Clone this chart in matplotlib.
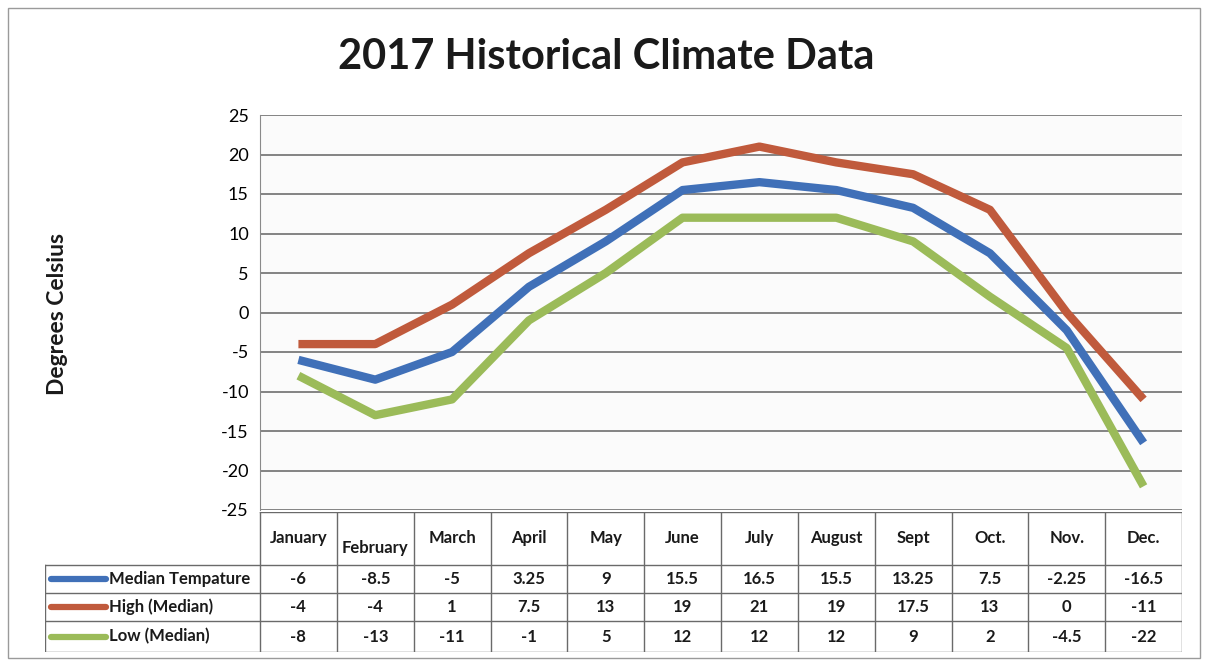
import numpy as np
import matplotlib
matplotlib.use("Agg")
import matplotlib.pyplot as plt
from matplotlib.patches import Rectangle

plt.rcParams['font.family'] = ['Lato', 'DejaVu Sans']

# data
months = ["January", "February", "March", "April", "May", "June",
          "July", "August", "Sept", "Oct.", "Nov.", "Dec."]
median_temp = [-6, -8.5, -5, 3.25, 9, 15.5, 16.5, 15.5, 13.25, 7.5, -2.25, -16.5]
high_median = [-4, -4, 1, 7.5, 13, 19, 21, 19, 17.5, 13, 0, -11]
low_median = [-8, -13, -11, -1, 5, 12, 12, 12, 9, 2, -4.5, -22]
median_lbl = ["-6", "-8.5", "-5", "3.25", "9", "15.5", "16.5", "15.5", "13.25", "7.5", "-2.25", "-16.5"]
high_lbl = ["-4", "-4", "1", "7.5", "13", "19", "21", "19", "17.5", "13", "0", "-11"]
low_lbl = ["-8", "-13", "-11", "-1", "5", "12", "12", "12", "9", "2", "-4.5", "-22"]
series_names = ["Median Tempature", "High (Median)", "Low (Median)"]
y_ticks = [-25, -20, -15, -10, -5, 0, 5, 10, 15, 20, 25]

colors = ['#4070B8', '#C05A3C', '#9BBB59']

W, H = 1208, 665
fig = plt.figure(figsize=(W / 100, H / 100), dpi=100)

def fx(px):
    return px / W

def fy(py):
    return 1 - py / H

# outer border
fig.patches.append(Rectangle((fx(8), fy(658)), fx(1192), 650 / H,
                             transform=fig.transFigure, fill=False,
                             edgecolor='#9a9a9a', linewidth=1.0))

# main plot
ax = fig.add_axes([fx(260), fy(510), fx(1182) - fx(260), fy(115) - fy(510)])
x = np.arange(len(months))
for vals, c in zip([low_median, high_median, median_temp], [colors[2], colors[1], colors[0]]):
    ax.plot(x, vals, color=c, linewidth=6, solid_joinstyle='round',
            solid_capstyle='butt', zorder=3)
ax.set_xlim(-0.5, 11.5)
ax.set_ylim(-25, 25)
ax.set_yticks(y_ticks)
ax.set_yticklabels([str(t) for t in y_ticks], fontsize=13)
ax.set_xticks([])
ax.grid(axis='y', color='#7a7a7a', linewidth=1.3)
ax.set_axisbelow(True)
ax.tick_params(axis='y', length=0, pad=8)
for s in ['top', 'right', 'bottom']:
    ax.spines[s].set_visible(False)
ax.spines['left'].set_color('#8a8a8a')
ax.set_facecolor('#fbfbfb')

fig.text(fx(606), fy(57), "2017 Historical Climate Data", ha='center', va='center',
         fontsize=30, fontweight='bold', color='#1a1a1a')
fig.text(fx(57), fy(314), "Degrees Celsius", ha='center', va='center',
         rotation=90, fontsize=16.5, fontweight='bold', color='#1a1a1a')

# data table
col_w = (1182 - 260) / 12
lab_w = (260 - 45) / col_w
tax = fig.add_axes([fx(45), fy(652), fx(1182) - fx(45), fy(512) - fy(652)])
tax.set_xlim(-0.5 - lab_w, 11.5)
tax.set_ylim(652, 512)
tax.axis('off')

grid_c = '#6a6a6a'
row_edges = [565, 593, 621, 652]
# header verticals and top
for i in range(13):
    tax.plot([i - 0.5, i - 0.5], [512, 652], color=grid_c, linewidth=1.0)
tax.plot([-0.5, 11.5], [512, 512], color=grid_c, linewidth=1.0)
for ry in row_edges:
    tax.plot([-0.5 - lab_w, 11.5], [ry, ry], color=grid_c, linewidth=1.0)
tax.plot([-0.5 - lab_w, -0.5 - lab_w], [565, 652], color=grid_c, linewidth=1.0)

for i, m in enumerate(months):
    yy = 548 if m == "February" else 538
    tax.text(i, yy, m, ha='center', va='center', fontsize=12,
             fontweight='bold', color='#1a1a1a')

rows = [median_lbl, high_lbl, low_lbl]
for r, (lbls, name, c) in enumerate(zip(rows, series_names, colors)):
    yc = (row_edges[r] + row_edges[r + 1]) / 2
    tax.plot([-0.5 - lab_w + 0.08, -0.5 - lab_w + 0.8], [yc, yc], color=c,
             linewidth=4.5, solid_capstyle='round')
    tax.text(-0.5 - lab_w + 0.83, yc, name, ha='left', va='center',
             fontsize=12, fontweight='bold', color='#1a1a1a')
    for i, v in enumerate(lbls):
        tax.text(i, yc, v, ha='center', va='center', fontsize=12,
                 fontweight='bold', color='#1a1a1a')

fig.savefig("out.png", dpi=100)
